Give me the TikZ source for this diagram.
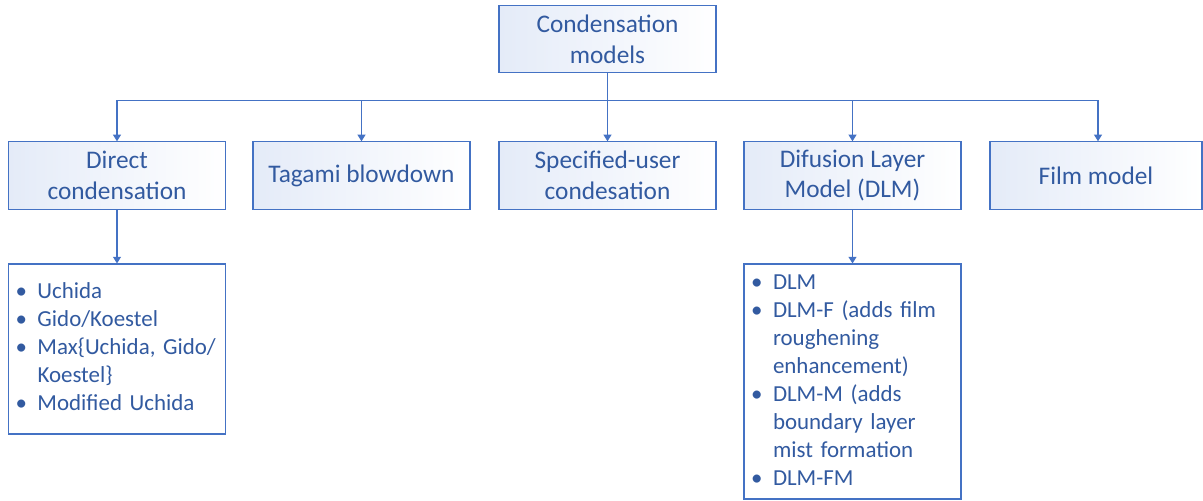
\documentclass[tikz,border=0pt]{standalone}
\usepackage{fontspec}
\setmainfont{Carlito}
\usepackage{tikz}
\usetikzlibrary{arrows.meta}
\definecolor{lineblue}{RGB}{68,114,196}
\definecolor{textblue}{RGB}{50,90,160}
\definecolor{fillblue}{RGB}{228,235,248}
\newcommand{\bl}{\textbullet}

\begin{document}
\begin{tikzpicture}[x=0.75pt,y=-0.75pt]
        \tikzset{model/.style = {shape=rectangle,draw=lineblue,line width=0.8pt,left color=fillblue,right color=white,text=textblue,minimum width=162.75pt,minimum height=50.5pt,align=center,inner sep=2pt,font=\fontsize{19}{23}\selectfont}}
        \tikzset{list/.style = {shape=rectangle,draw=lineblue,line width=0.8pt,fill=white,text=textblue,text width=152.25pt,inner xsep=5.25pt,inner ysep=0pt,font=\fontsize{17.2}{21}\selectfont}}
        \tikzset{edge/.style = {draw=lineblue,line width=0.8pt,-{Triangle[width=6pt,length=5pt]}}}

        \useasboundingbox (0, 0) rectangle (1203, 500);

        \node[model] (CM) at (607.5, 39) {Condensation\\models};

        \node[model] (DC) at (117, 175.5) {Direct\\condensation};
        \node[model] (TB) at (361.5, 175.5) {Tagami blowdown};
        \node[model] (SU) at (607.5, 175.5) {Specified-user\\condesation};
        \node[model] (DL) at (852.5, 175.5) {Difusion Layer\\Model (DLM)};
        \node[model, minimum width=159pt] (FM) at (1096, 175.5) {Film model};

        \node[list, minimum height=127.5pt] (DCL) at (117, 349) {%
            \begin{tabular}{@{}p{16.5pt}@{}l@{}}
            \bl & Uchida\\
            \bl & Gido/Koestel\\
            \bl & Max\{Uchida, Gido/\\
                & Koestel\}\\
            \bl & Modified Uchida
            \end{tabular}};

        \node[list, minimum height=176.25pt] (DLL) at (852.5, 381.5) {%
            \begin{tabular}{@{}p{16.5pt}@{}l@{}}
            \bl & DLM\\
            \bl & DLM-F (adds film\\
                & roughening\\
                & enhancement)\\
            \bl & DLM-M (adds\\
                & boundary layer\\
                & mist formation\\
            \bl & DLM-FM
            \end{tabular}};

        \draw[edge] (CM.south) -- ++(0, 27) -| (DC.north);
        \draw[edge] (CM.south) -- ++(0, 27) -| (TB.north);
        \draw[edge] (CM.south) -- (SU.north);
        \draw[edge] (CM.south) -- ++(0, 27) -| (DL.north);
        \draw[edge] (CM.south) -- ++(0, 27) -| ([xshift=1.5pt]FM.north);

        \draw[edge] (DC) to (DCL);
        \draw[edge] (DL) to (DLL);
    \end{tikzpicture}
\end{document}
